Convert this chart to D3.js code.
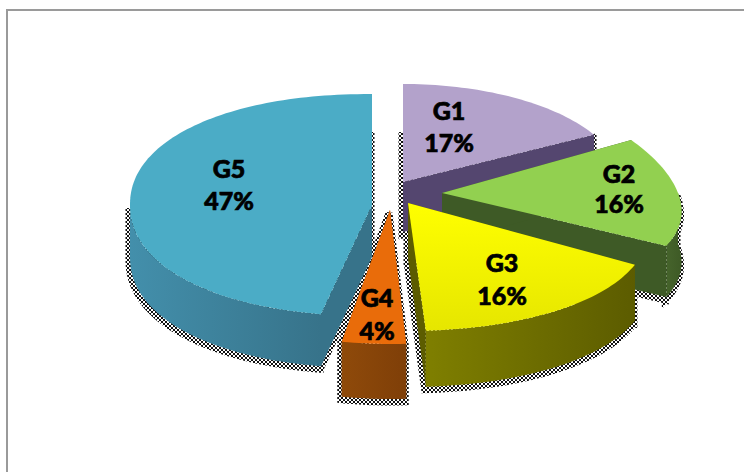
<!DOCTYPE html>
<html>
<head>
<meta charset="utf-8">
<script src="https://cdn.jsdelivr.net/npm/d3@7"></script>
<style>
  html, body { margin: 0; background: #fff; }
  text { font-family: Lato, "Open Sans", sans-serif; font-weight: 900; }
</style>
</head>
<body>
<div id="chart"></div>
<script>
const width = 744, height = 472;

// chart values
const groups = ["G1", "G2", "G3", "G4", "G5"];
const shares = [17, 16, 16, 4, 47];

// looks
const topColors = ["#b3a2cb", "#92d050", "#f4f400", "#e96c0a", "#4bacc6"];
const wallDark = ["#54466f", "#3e5a26", "#5c5c00", "#7f3f08", "#37738a"];
const wallLight = ["#5f5080", "#46642c", "#7f7f00", "#8f4a0a", "#438fab"];

// where each exploded slice has its tip, one per group
const tipX = [403, 442, 408, 390, 372];
const tipY = [182, 193, 203, 210, 205];
const radiusX = [218, 236, 237, 215, 242];
const radiusY = [98, 110, 128, 134, 111];
const wallDepth = [50, 51, 56, 55, 52];
const tilt = [0, 0.0016, 0.0015, 0.0015, 0]; // front drawn wider than the back
const roundness = [1, 1, 1, 1, 0.93];
const labelX = [449, 619, 502, 377, 229];
const labelY1 = [120, 183, 272, 307, 178];
const labelY2 = [152, 213, 305, 340, 210];

var svg = d3.select("#chart")
  .append("svg")
  .attr("width", width)
  .attr("height", height)
  .style("display", "block");

// frame, only top and left fall inside the window
svg.append("rect")
  .attr("x", 7).attr("y", 10)
  .attr("width", 800).attr("height", 600)
  .attr("fill", "none")
  .attr("stroke", "#9a9a9a")
  .attr("stroke-width", 2);

var defs = svg.append("defs");

// halftone for the shadow
var dots = defs.append("pattern")
  .attr("id", "dots")
  .attr("patternUnits", "userSpaceOnUse")
  .attr("width", 4).attr("height", 4);
dots.append("rect").attr("width", 2).attr("height", 2).attr("fill", "#111");
dots.append("rect").attr("x", 2).attr("y", 2).attr("width", 2).attr("height", 2).attr("fill", "#111");

defs.append("clipPath").attr("id", "shadowClip")
  .append("rect").attr("x", 0).attr("y", 132).attr("width", width).attr("height", height);

groups.forEach((g, i) => {
  var grad = defs.append("linearGradient").attr("id", "wall" + i);
  grad.append("stop").attr("offset", "0%").attr("stop-color", wallLight[i]);
  grad.append("stop").attr("offset", "100%").attr("stop-color", wallDark[i]);
});

var yellow = defs.append("linearGradient").attr("id", "yellowTop")
  .attr("x1", 0).attr("y1", 0).attr("x2", 0).attr("y2", 1);
yellow.append("stop").attr("offset", "0%").attr("stop-color", "#ffff00");
yellow.append("stop").attr("offset", "100%").attr("stop-color", "#e6e600");

var arcs = d3.pie().sort(null)(shares);

function rimPoint(i, a) {
  const s = Math.sin(a), c = Math.cos(a), p = roundness[i];
  const u = radiusX[i] * Math.sign(s) * Math.pow(Math.abs(s), p);
  const v = -radiusY[i] * Math.sign(c) * Math.pow(Math.abs(c), p);
  return [tipX[i] + u * (1 + tilt[i] * v), tipY[i] + v];
}

function rimPoints(i, a0, a1) {
  const n = Math.max(2, Math.ceil((a1 - a0) * 40));
  return d3.range(n + 1).map(k => rimPoint(i, a0 + (a1 - a0) * k / n));
}

const line = d3.line();
const down = (i, p) => [p[0], p[1] + wallDepth[i]];

// the part of the outer wall that faces the viewer
function wallPoints(i, d) {
  const a0 = Math.max(d.startAngle, Math.PI / 2);
  const a1 = Math.min(d.endAngle, Math.PI * 3 / 2);
  if (a1 <= a0) return null;
  const rim = rimPoints(i, a0, a1);
  return rim.concat(rim.slice().reverse().map(p => down(i, p)));
}

function topPoints(i, d) {
  return [[tipX[i], tipY[i]]].concat(rimPoints(i, d.startAngle, d.endAngle));
}

// cut face along one straight edge of a slice
function cutPoints(i, a) {
  const tip = [tipX[i], tipY[i]], p = rimPoint(i, a);
  return [tip, p, down(i, p), down(i, tip)];
}

// back to front so nearer slices cover farther ones
const order = [0, 1, 2, 4, 3];

// halftone shadow under the walls, all of it below every slice
var shadows = svg.append("g").attr("clip-path", "url(#shadowClip)");
order.forEach(i => {
  const d = arcs[i];
  const wall = wallPoints(i, d);
  var shape = line(cutPoints(i, d.endAngle)) + "Z";
  if (i != 1) shape += line(cutPoints(i, d.startAngle)) + "Z";
  if (wall) shape += line(wall) + "Z";
  shadows.append("path")
    .attr("d", shape)
    .attr("transform", "translate(-1,3)")
    .attr("fill", "url(#dots)")
    .attr("stroke", "url(#dots)")
    .attr("stroke-width", 7);
});

order.forEach(i => {
  const d = arcs[i];
  const g = svg.append("g").attr("class", "slice");
  const wall = wallPoints(i, d);
  g.append("path").attr("d", line(cutPoints(i, d.endAngle)) + "Z").attr("fill", wallDark[i]);
  g.append("path").attr("d", line(cutPoints(i, d.startAngle)) + "Z").attr("fill", wallDark[i]);
  if (wall) g.append("path").attr("d", line(wall) + "Z").attr("fill", "url(#wall" + i + ")");
  g.append("path")
    .attr("d", line(topPoints(i, d)) + "Z")
    .attr("fill", i == 2 ? "url(#yellowTop)" : topColors[i]);
});

// labels go on last
groups.forEach((g, i) => {
  const t = svg.append("text")
    .attr("text-anchor", "middle")
    .attr("font-size", 25)
    .attr("fill", "#000")
    .attr("stroke", "#000")
    .attr("stroke-width", 0.7);
  t.append("tspan").attr("x", labelX[i]).attr("y", labelY1[i]).text(g);
  t.append("tspan").attr("x", labelX[i]).attr("y", labelY2[i]).text(shares[i] + "%");
});
</script>
</body>
</html>
